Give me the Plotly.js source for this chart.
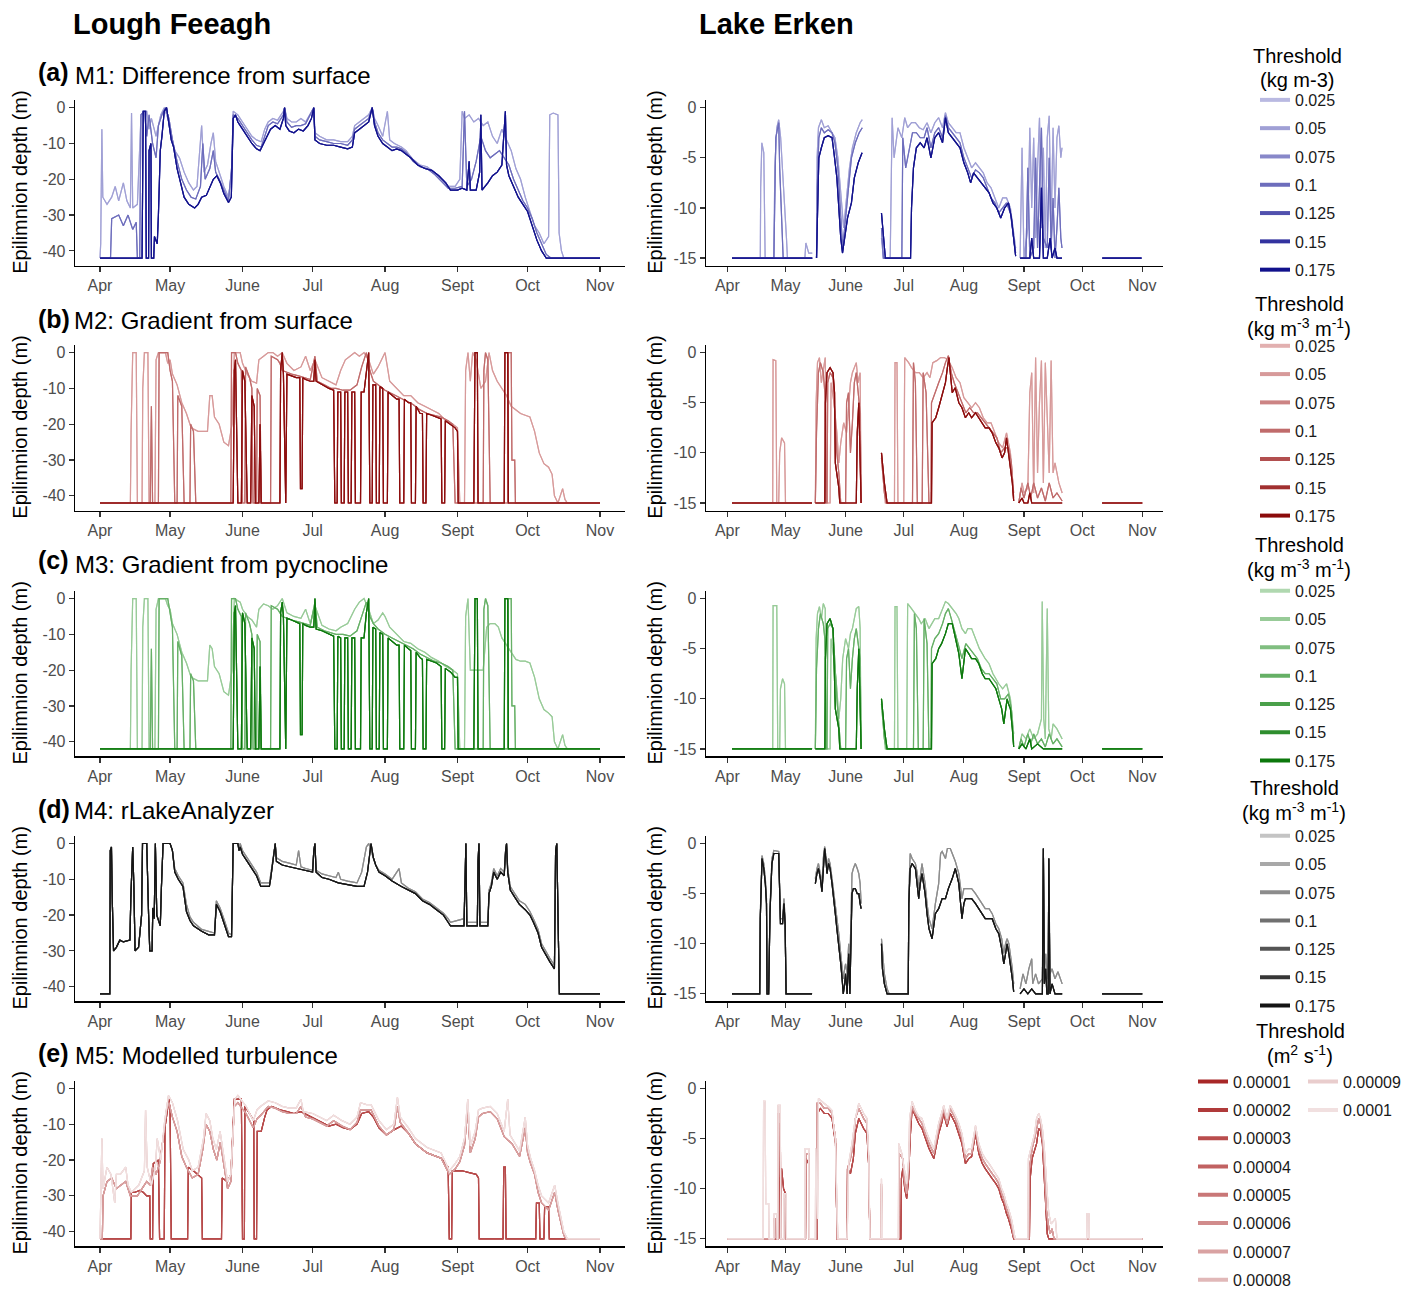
<!DOCTYPE html>
<html><head><meta charset="utf-8">
<script src="https://cdn.plot.ly/plotly-3.0.1.min.js"></script>
<style>
html,body{margin:0;padding:0;background:#fff;width:100%;height:100%;overflow:hidden}
#chart{width:100vw;height:100vh;overflow:hidden;position:relative}
</style>
</head><body><div id="chart"></div>
<script>
// ---------- tick labels / categories ----------
const monthTickVals = [0, 30, 61, 91, 122, 153, 183, 214];   // days since 1 April
const monthTickText = ['Apr', 'May', 'June', 'Jul', 'Aug', 'Sept', 'Oct', 'Nov'];
const feeaghTickVals = [0, -10, -20, -30, -40];
const feeaghTickText = ['0', '-10', '-20', '-30', '-40'];
const erkenTickVals = [0, -5, -10, -15];
const erkenTickText = ['0', '-5', '-10', '-15'];
const densityThresholds = ['0.025', '0.05', '0.075', '0.1', '0.125', '0.15', '0.175'];
const turbulenceThresholds = ['0.00001', '0.00002', '0.00003', '0.00004', '0.00005', '0.00006', '0.00007', '0.00008', '0.00009', '0.0001'];

// ---------- series: [day since 1 Apr, epilimnion depth (m)] ----------
// M1 Lough Feeagh
const FE_M1_low = [[0,-42],[0.3,-38],[0.8,-6],[1.2,-25],[3,-27],[5,-25],[6.5,-22],[8,-26],[10,-21],[11.5,-26],[13,-28],[13.5,-1.5],[14,-28],[16,-27],[17.5,-3],[18.5,-1],[20,-1],[21,-6],[22,-3],[24,-8],[26,-2],[27.5,0],[29,-3],[30.5,-8],[32,-12],[34,-14],[36,-18],[38,-21],[40,-23],[41.5,-22],[42.5,-12],[43.5,-5],[44.5,-18],[46,-16],[47.5,-10],[48.5,-7],[49.5,-15],[51,-18],[53,-22],[55,-25],[56.5,-17],[57,-1],[59,-2],[61,-4],[63,-6],[65,-8],[67,-9],[69,-9.5],[70.5,-6],[72,-4],[74,-3],[76,-3.5],[78.5,-1],[79,0],[80,-3],[82,-4],[84,-4],[86,-3],[88,-4],[90,-1.5],[91.5,0],[92,-7],[94,-8],[97,-9],[100,-9],[103,-9.5],[106,-9.5],[108,-8],[109,-5],[111,-4],[113,-3],[115,-2],[116.5,0],[117.5,-3],[119,-5],[121,-8],[123,-1],[124,-9],[126,-10],[129,-11],[131,-12],[134,-14.5],[137,-16],[140,-16.5],[143,-18],[146,-20],[149,-22],[152,-22],[154,-20],[155,-1],[156,-3],[158,-2],[160,-4],[162,-3],[164,-5],[166,-4],[168,-8],[170,-10],[172,-6],[174,-9],[176,-12],[178,-17],[180,-20],[182,-25],[184,-29],[186,-33],[188,-35],[190,-38],[192,-36],[192.5,-2],[194,-1.5],[196,-2],[196.5,-35],[197.5,-40],[198.5,-42],[214,-42]];
const FE_M1_mid = [[0,-42],[4.5,-42],[5,-31],[8,-30],[10,-33],[12,-30],[14,-34],[15.5,-32],[16,-42],[17,-42],[17.5,-2],[19,-1],[20,-8],[21,-2],[22.5,-10],[24,-14],[25,-5],[26.5,-2],[28,0],[29.5,-3],[31,-9],[33,-15],[35,-20],[37,-23],[39,-25],[41,-25.5],[43,-22],[44,-10],[45,-20],[47,-17],[48.5,-12],[49.5,-18],[51,-20],[53,-23],[55,-26],[56.3,-17],[57,-2],[59,-3],[61,-5],[63,-7],[65,-9],[67,-10.5],[69,-11],[70.5,-8],[72,-5],[74,-4],[76,-4.5],[78.5,-2],[79,0],[80,-4],[82,-5.5],[84,-5],[86,-5],[88,-4.5],[90,-2],[91.5,0],[92,-8],[94,-9],[97,-9.5],[100,-10],[103,-10],[106,-10.5],[108,-9],[109,-6],[111,-5],[113,-4],[115,-3],[116.5,0],[117.5,-4],[119,-7],[121,-9],[123,-10],[125,-11],[127,-11],[129,-11.5],[131,-12.5],[134,-15],[137,-16.5],[140,-17],[143,-18.5],[146,-20.5],[149,-22.5],[152,-22.5],[155,-22],[156,-1],[157,-22],[159,-20],[161,-15],[163,-8],[165,-12],[167,-14],[169,-13],[171,-12],[173,-14],[175,-16],[177,-20],[179,-23],[181,-26],[183,-28],[185,-31],[187,-35],[189,-38],[191,-41],[193,-42],[214,-42]];
const FE_M1_high = [[0,-42],[18,-42],[18.5,-1],[19.5,-1],[19.8,-42],[20.8,-42],[21,-12],[21.8,-10],[22,-42],[23,-42],[23.3,-36],[24.5,-38],[25,-30],[25.8,-12],[26.5,-8],[27.5,-1],[28.5,0],[29.5,-4],[30.5,-9],[31.5,-11],[33,-17],[34.5,-21],[36,-25],[38,-27],[40.5,-28],[42,-27],[43.5,-25],[45.5,-24.5],[47,-22],[48.5,-20],[50,-19],[51.5,-21],[53,-24],[55,-26.5],[56.2,-25],[56.5,-17],[57,-3],[58,-2],[59,-4],[61,-6],[63,-8],[65,-10],[67,-11.5],[68.5,-12],[70,-10],[71.5,-8],[73,-6],[75,-5],[77,-6],[78.5,-3],[79,0],[79.5,-5],[81,-6.5],[83,-7],[85,-6],[87,-6.5],[89,-5],[90.5,-3],[91.5,0],[92,-9],[94,-10],[97,-10.5],[100,-10.5],[103,-11],[106,-11.5],[108,-11],[109,-7],[111,-6],[113,-5],[115,-4],[116.5,0],[117.5,-5],[119,-8],[121,-10],[123,-11],[125,-12],[127,-11.5],[129,-12],[131,-13],[133,-14],[136,-16],[139,-17],[142,-17.5],[145,-19],[148,-21],[150,-23],[153,-23],[155,-22.5],[157,-23],[158,-15],[158.5,-23],[161,-23],[162.5,-18],[163,-2],[163.5,-23],[166,-21],[168,-19],[170,-18],[172,-16],[173,-5],[173.5,-1],[174,-16],[175,-19],[177,-22],[179,-25],[181,-27],[183,-29],[185,-33],[187,-37],[189,-40],[191,-42],[214,-42]];
// M1 Lake Erken
const ER_M1_low = [[2.4,-15],[17,-15],[17.2,-8],[17.8,-3.5],[18.8,-4.5],[19.5,-15],[24,-15],[24.5,-6],[25.5,-2],[26.5,-1.2],[27.5,-3],[28.5,-6],[29.5,-10],[30.5,-13],[31,-15],[40,-15],[40.5,-13.5],[42,-14.5],[43.8,-14.5],[44,null],[46,-15],[46.3,-5],[47,-2],[48.5,-1.2],[50,-2],[52,-1.8],[54,-2.5],[55.5,-3],[57,-5],[58.5,-9],[60,-12],[61.5,-9],[63,-6],[64.5,-4],[66.5,-2.5],[68.5,-1.5],[69.6,-1.2],[69.7,null],[79.5,-13],[80.5,-15],[84,-15],[85,-1],[86,-5],[88,-2],[90,-3],[91.5,-1],[93,-2],[95,-1.5],[97,-1.5],[99,-2],[101,-2.2],[103,-1.5],[105,-2.5],[107,-1.5],[109,-1],[111,-2],[112.5,-0.5],[114,-1.5],[116,-2],[118,-2.5],[120,-2.5],[122,-4],[124,-5],[126,-6],[128,-5.5],[130,-6],[132,-6.5],[134,-7.5],[136,-8],[138,-9],[140,-10],[142,-9],[144,-9],[146,-10],[148.7,-14],[148.8,null],[151,-15],[152,-4],[153,-15],[155,-12],[156,-2],[157,-10],[158,-3],[159,-13],[160,-6],[161,-1],[162,-12],[163,-4],[164,-14],[165,-3],[166,-0.8],[167,-12],[168,-2],[169,-10],[170,-3],[171,-1.8],[172,-5],[172.6,-4],[172.7,null],[193.4,-15],[213.6,-15]];
const ER_M1_mid = [[2.4,-15],[24,-15],[25,-3],[26.5,-1.5],[27,-6],[28,-12],[28.8,-15],[43.8,-15],[44,null],[46,-15],[46.4,-8],[47.2,-3],[48.5,-2],[50,-2.5],[52,-2.2],[54,-2.5],[55.5,-3.5],[57,-6],[58.5,-11],[59.5,-14],[61,-11],[62.5,-8],[64,-5],[66,-3.5],[68,-2.5],[69.6,-2],[69.7,null],[79.5,-12],[80.5,-15],[90,-15],[90.5,-3],[92,-6],[94,-4],[95.5,-2.5],[97.5,-2.5],[99.5,-3],[101.5,-3],[103,-2],[105,-4],[107,-2.5],[109,-2],[111,-3],[112.5,-0.8],[114,-2],[116,-2.5],[118,-3],[120,-3.5],[122,-5],[124,-6],[126,-7],[128,-6.2],[130,-6.5],[132,-7],[134,-8],[136,-9],[138,-9.5],[140,-10.5],[142,-10],[144,-9.5],[146,-10.5],[148.7,-14.5],[148.8,null],[151,-15],[154,-15],[155,-6],[156,-15],[158,-14],[159,-5],[160,-14],[162,-2],[163,-13],[165,-14],[166,-5],[167,-14],[168,-9],[169,-15],[170,-12],[171,-8],[172,-13],[172.6,-14],[172.7,null],[193.4,-15],[213.6,-15]];
const ER_M1_high = [[2.4,-15],[43.8,-15],[44,null],[46,-15],[46.5,-10],[47.2,-5],[48.5,-4],[50,-3],[52,-2.8],[54,-3],[55,-4.5],[56.5,-7],[57.5,-10],[58.5,-13],[59.4,-14.5],[60.5,-13],[62,-11],[64,-9.5],[65.5,-7],[67.5,-5.5],[69.5,-4.5],[69.6,null],[79.5,-10.5],[80.5,-13],[81.5,-15],[94.5,-15],[95,-10],[96,-6],[97.5,-4],[99.5,-3.5],[101.5,-4],[103,-3],[105,-5],[107,-3],[109,-2.5],[111,-3.5],[112.5,-1],[114,-2.5],[116,-3],[118,-3.5],[120,-4],[122,-5.5],[124,-6.5],[125.5,-7.5],[127,-6.5],[129,-7],[131,-7.5],[133,-8],[135,-8.5],[137,-9.5],[139,-10],[141,-11],[143,-10],[145,-9.5],[146.5,-11],[148.7,-14.8],[148.8,null],[151,-15],[156,-15],[157,-13],[158,-15],[161,-15],[162,-8],[163,-15],[165,-15],[166.5,-13],[167.5,-15],[169,-14],[170,-15],[172.6,-15],[172.7,null],[193.4,-15],[213.6,-15]];
// M2 Lough Feeagh
const FE_M2_low = [[0,-42],[13,-42],[13.3,-22],[14,0],[15.5,0],[16,-42],[18,-42],[18.3,-10],[19,0],[20.5,0],[21,-42],[23.5,-42],[24,-2],[25,0],[28,0],[29,-3],[30,-2],[31,-6],[33,-9],[35,-14],[37,-17],[39,-21],[42,-22],[46,-22],[47,-12],[48,-12],[49,-18],[51,-20],[53,-25],[55,-26],[56.5,-20],[57.5,0],[60,0],[61,-3],[63,-6],[65,-8],[67,-8.5],[68,-2],[70,-1],[72,0],[74,0],[76,-1],[78,0],[80,-3],[83,-5],[86,-4],[88,-1],[90,-5],[92,-2],[95,-7],[98,-8],[101,-9],[103,-5],[105,-2],[107,-1],[109,0],[111,-1],[113,0],[115,-2],[117,-6],[119,-4],[121,-1],[122,0],[124,-8],[127,-10],[130,-12],[133,-12],[136,-14],[139,-15],[142,-16],[145,-17],[148,-19],[151,-20],[153,-21],[154,-42],[156,-42],[156.5,-5],[157.5,0],[158.5,-8],[159.5,0],[161,-2],[163,-10],[165,-8],[166.5,0],[168,-5],[170,-8],[172,-10],[174,-12],[176,-15],[178,-16],[180,-17],[182,-17.5],[184,-18],[186,-22],[188,-28],[190,-31],[192,-32],[193.5,-34],[194.5,-40],[196,-42],[197,-40],[198,-38],[199,-41],[200,-42],[214,-42]];
const FE_M2_mid = [[0,-42],[21.5,-42],[22,-15],[22.5,-42],[25,-42],[25.3,0],[29,0],[30,-5],[31,-8],[32,-42],[33,-42],[33.3,-12],[35,-15],[36,-42],[38.5,-42],[38.8,-20],[40,-22],[41,-42],[56,-42],[56.3,0],[58,0],[59,-3],[60.5,-5],[61,-42],[62,-42],[62.3,-4],[64,-7],[65,-10],[65.5,-42],[67,-42],[67.3,-10],[68.5,-12],[69,-42],[73,-42],[73.3,-1],[76,-2],[77,-3],[78,-5],[80,-5.5],[82,-6],[85,-6.5],[88,-7],[90,-7.5],[92,-1],[93,-8],[96,-9],[99,-10],[101,-10],[104,-10.5],[107,-10.5],[110,-9],[112,-4],[114,0],[115.5,-5],[117,-8],[119,-9],[122,-10.5],[125,-11.5],[128,-12.5],[131,-13.5],[134,-14.5],[137,-16],[140,-17],[143,-17.5],[146,-18],[149,-19],[151,-20],[152,-42],[164,-42],[164.3,-5],[165,0],[166,-2],[167,-42],[174.5,-42],[174.8,0],[176,0],[176.3,-30],[177.5,-30],[177.8,-42],[214,-42]];
const FE_M2_high = [[0,-42],[57,-42],[57.5,-5],[58,-2],[59,-42],[60.5,-42],[61,-5],[62,-8],[63,-42],[64.5,-42],[65,-12],[66,-15],[66.5,-42],[68,-42],[68.5,-20],[69,-42],[77,-42],[77.3,-5],[78,0],[78.5,-6],[79.5,-42],[80,-6],[82,-6.5],[84,-7],[85.5,-7],[85.8,-38],[86.5,-38],[86.8,-7],[88,-7.5],[90,-8],[91.5,-8],[92,-2],[92.5,-8],[95,-9],[98,-10],[100,-10.5],[100.5,-42],[101.5,-42],[101.8,-11],[103,-11],[103.3,-42],[104.5,-42],[104.8,-11],[106,-11],[106.3,-42],[107.5,-42],[107.8,-11],[109,-11],[109.3,-42],[111.5,-42],[111.8,-11],[113,-11],[114,-5],[115,0],[115.5,-42],[116.5,-42],[116.8,-9],[118,-9],[118.3,-42],[119.5,-42],[119.8,-9.5],[121,-10],[121.3,-42],[123,-42],[123.3,-11],[125,-12],[127,-13],[128,-13],[128.3,-42],[130,-42],[130.3,-13],[132,-14],[133,-14],[133.3,-42],[135,-42],[135.3,-15],[137,-17],[138,-17],[138.3,-42],[139.5,-42],[139.8,-17],[142,-17.5],[144,-18],[146,-18.5],[146.3,-42],[147.5,-42],[147.8,-19],[150,-20],[152,-21],[153,-22],[153.3,-42],[160,-42],[160.5,0],[161.5,0],[161.8,-42],[173,-42],[173.3,0],[174.5,0],[174.8,-42],[214,-42]];
// M2 Lake Erken
const ER_M2_low = [[2.4,-15],[23.4,-15],[23.6,-0.7],[25,-0.8],[25.5,-15],[26.5,-15],[27,-10],[28,-8.5],[29.5,-9],[30,-15],[43.7,-15],[43.8,null],[45.4,-15],[45.8,-5],[46.5,-1],[47.5,-0.5],[48.5,-3],[49.5,-1.5],[50.5,-0.5],[51.5,-15],[53,-15],[53.5,-3],[55,-5],[56.5,-8],[57.5,-11],[58.5,-9],[60,-7],[61.5,-8],[62.5,-5],[63.5,-3],[64.5,-2],[65.5,-1.5],[66.5,-1],[67.5,-3],[68.5,-2],[69,-15],[69.1,null],[79.5,-10],[80.5,-13],[81.5,-15],[86.2,-15],[86.5,-1],[87.5,-1],[88,-15],[91,-15],[91.5,-0.5],[93.5,-1],[95,-1.5],[97,-2],[99,-2],[101,-2.5],[103,-2],[104.5,-2.5],[106,-1],[108,-0.8],[110,-0.5],[112,-0.5],[114,-0.8],[116,-1.5],[118,-2.5],[120,-3],[122,-4.5],[124,-5],[126,-5.5],[128,-5],[130,-5.5],[132,-6.5],[134,-7],[136,-7],[138,-8],[140,-9],[142,-9.5],[144,-8],[146,-10],[147.7,-14],[147.8,null],[150.3,-15],[152,-13],[153,-14],[155,-13.5],[156,-4],[157,-2],[158,-14],[159,-0.5],[160,-12],[161,-5],[162,-0.8],[163,-13],[164,-1],[165,-6],[166,-12],[167,-0.8],[168,-12],[169,-11],[170,-12],[171,-13],[172.7,-14],[172.8,null],[193.3,-15],[214,-15]];
const ER_M2_mid = [[2.4,-15],[43.7,-15],[43.8,null],[45.4,-15],[46,-8],[47,-2],[48,-1],[49.5,-2],[50.3,-4],[51,-15],[51.4,-15],[51.8,-3],[53,-2],[54.5,-2.5],[55.5,-6],[56.5,-10],[57.5,-12],[58.5,-15],[61,-15],[61.5,-5],[62.5,-4],[63.5,-10],[64.5,-7],[65.5,-3],[66.5,-2],[67.5,-4],[68.5,-6],[69,-15],[69.1,null],[79.5,-10.5],[81,-14],[82,-15],[95.5,-15],[96,-1],[97,-3],[98,-15],[100.5,-15],[101,-2],[102.5,-4],[104,-15],[105,-15],[105.3,-5],[107,-4],[109,-3],[111,-2],[112.5,-1],[114,-0.3],[115.5,-2],[117,-3],[119,-4],[121,-5],[123,-6],[125,-5.5],[127,-6],[129,-6],[131,-6.5],[133,-7],[135,-7.5],[137,-8],[139,-8.5],[141,-10],[143,-9.5],[145,-9.5],[146.5,-11],[147.7,-14.5],[147.8,null],[150.3,-15],[151.5,-13.5],[153,-14.5],[155,-13],[156.5,-14.5],[158,-13],[160,-14.5],[162,-13.5],[164,-14.8],[166,-13],[168,-14.5],[170,-14],[172.7,-14.8],[172.8,null],[193.3,-15],[214,-15]];
const ER_M2_high = [[2.4,-15],[43.7,-15],[43.8,null],[45.4,-15],[50.3,-15],[50.6,-5],[51.4,-2],[53,-1.5],[54.5,-2],[55.3,-4],[55.7,-11],[57.5,-13.5],[58,-15],[66.5,-15],[67,-8],[67.8,-5],[68.5,-12],[69,-15],[69.1,null],[79.5,-10],[81,-13],[82.4,-15],[105.3,-15],[105.6,-7],[107.5,-6.5],[109,-5.5],[110.5,-4.5],[112.5,-3],[113.5,-1.5],[114.3,-0.5],[115,-2],[116,-4],[117.5,-3.5],[119.4,-5],[121,-5.5],[122.8,-6.5],[124.5,-6],[126,-6.5],[128,-6],[129.7,-6.5],[131.5,-7],[133,-7.5],[135,-7.5],[136.6,-8],[138.5,-9],[140,-9.5],[141.7,-10.5],[143,-10],[144,-8.5],[145,-10],[146,-11],[147,-13],[147.7,-14.8],[147.8,null],[150.3,-15],[152,-14.5],[153,-15],[155,-15],[156,-14],[157,-15],[160,-15],[172.7,-15],[172.8,null],[193.3,-15],[214,-15]];
// M3 Lough Feeagh
const FE_M3_low = [[0,-42],[13,-42],[13.3,-20],[14,0],[15.5,0],[16,-42],[18,-42],[18.3,-8],[19,0],[20.5,0],[21,-42],[23.5,-42],[24,-3],[25,0],[28,0],[29,-2],[30,-3],[31,-7],[33,-10],[35,-15],[37,-18],[39,-22],[42,-23],[46,-23],[47,-13],[48,-14],[49,-19],[51,-21],[53,-26],[55,-27],[56.5,-20],[57.5,0],[60,-1],[61,-3],[63,-5],[65,-6],[67,-8],[68,-3],[70,-1.5],[72,-2],[74,-3],[76,-2],[78,0],[80,-4],[83,-5],[86,-5.5],[88,-3],[90,-7],[92,-2],[95,-7.5],[98,-8.5],[101,-9],[103,-8],[106,-7],[109,-3],[111,-1],[113,0],[115,-3],[117,-7],[119,-6],[121,-4],[122,-5],[124,-8],[127,-10],[130,-12],[133,-12.5],[136,-14],[139,-15],[142,-16.5],[145,-17.5],[148,-19],[151,-20],[153,-21],[154,-42],[156,-42],[156.5,-5],[157.5,0],[158.5,-20],[162,-20],[164,-20],[165.5,-8],[167,-7],[169,-7],[170.5,-8],[172,-11],[174,-13],[176,-15],[178,-17],[180,-17.5],[182,-17.5],[184,-18],[186,-22],[188,-28],[190,-31],[192,-32],[193.5,-33],[194.5,-40],[196,-42],[197,-40],[198,-38],[199,-41],[200,-42],[214,-42]];
const FE_M3_mid = [[0,-42],[21.5,-42],[22,-14],[22.5,-42],[25,-42],[25.3,0],[29,0],[30,-4],[31,-8],[32,-42],[33,-42],[33.3,-12],[35,-16],[36,-42],[38.5,-42],[38.8,-21],[40,-23],[41,-42],[56,-42],[56.3,0],[58,0],[59,-3],[60.5,-5],[61,-42],[62,-42],[62.3,-4],[64,-7],[65,-10],[65.5,-42],[67,-42],[67.3,-10],[68.5,-12],[69,-42],[73,-42],[73.3,-2],[76,-3],[77,-4],[78,-5],[80,-5.5],[82,-6],[85,-6.5],[88,-7],[90,-7.5],[92,-1],[93,-8],[96,-9],[99,-9.5],[101,-10],[104,-10],[107,-10.5],[110,-9],[112,-5],[114,-1],[115.5,-5],[117,-7],[119,-8.5],[122,-10],[125,-11],[128,-12],[131,-13],[134,-14],[137,-15.5],[140,-16.5],[143,-17.5],[146,-18],[149,-19],[151,-20],[152,-42],[164,-42],[164.3,-3],[165,0],[166,-2],[167,-42],[174.5,-42],[174.8,0],[176,0],[176.3,-30],[177.5,-30],[177.8,-42],[214,-42]];
const FE_M3_high = [[0,-42],[57,-42],[57.5,-4],[58,-2],[59,-42],[60.5,-42],[61,-4],[62,-7],[63,-42],[64.5,-42],[65,-11],[66,-14],[66.5,-42],[68,-42],[68.5,-19],[69,-42],[77,-42],[77.3,-4],[78,-1],[78.5,-5],[79.5,-42],[80,-5.5],[82,-6],[84,-6.5],[85.5,-7],[85.8,-38],[86.5,-38],[86.8,-7],[88,-7.5],[90,-8],[91.5,-8],[92,0],[92.5,-8.5],[95,-9],[98,-10],[100,-10.5],[100.5,-42],[101.5,-42],[101.8,-10.5],[103,-11],[103.3,-42],[104.5,-42],[104.8,-11],[106,-11],[106.3,-42],[107.5,-42],[107.8,-11],[109,-11],[109.3,-42],[111.5,-42],[111.8,-11],[113,-11],[114,-4],[115,0],[115.5,-42],[116.5,-42],[116.8,-8],[118,-8.5],[118.3,-42],[119.5,-42],[119.8,-9.5],[121,-10],[121.3,-42],[123,-42],[123.3,-11],[125,-12],[127,-13],[128,-13],[128.3,-42],[130,-42],[130.3,-13],[132,-14],[133,-14.5],[133.3,-42],[135,-42],[135.3,-15],[137,-16.5],[138,-17],[138.3,-42],[139.5,-42],[139.8,-17],[142,-17.5],[144,-18],[146,-19],[146.3,-42],[147.5,-42],[147.8,-19.5],[150,-20.5],[152,-22],[153,-22],[153.3,-42],[160,-42],[160.5,0],[161.5,0],[161.8,-42],[173,-42],[173.3,0],[174.5,0],[174.8,-42],[214,-42]];
// M3 Lake Erken
const ER_M3_low = [[2.4,-15],[23.4,-15],[23.6,-0.7],[25.5,-0.7],[26,-15],[27,-15],[27.4,-9],[28.5,-8],[29.5,-8.5],[30,-15],[43.7,-15],[43.8,null],[45.4,-15],[45.8,-4],[46.5,-1.5],[47.5,-0.8],[48.5,-2],[49.5,-0.5],[50.5,-1],[51,-15],[53,-15],[53.5,-4],[55,-6],[56.5,-9],[57.5,-12],[58.5,-10],[59.5,-6],[61,-4],[62.5,-5],[63.5,-3.5],[64.5,-3],[65.5,-2],[66.5,-1],[67.8,-0.8],[68.5,-3],[69,-15],[69.1,null],[79.5,-10],[80.5,-13],[81.5,-15],[86.2,-15],[86.5,-0.8],[87.5,-0.8],[88,-15],[92.5,-15],[93,-0.5],[95,-1],[97,-1.5],[98.7,-2],[100,-2.5],[102,-2],[104,-3],[105.5,-2.5],[107,-2],[109,-2],[111,-1],[112.5,-0.3],[114,-0.5],[116,-1],[118,-1.5],[119.4,-2],[121,-3],[122.8,-3.5],[124,-3],[126,-3],[128,-4],[130,-5],[133,-6],[135,-6.5],[137,-7.5],[140,-8.5],[142,-9],[144,-8.5],[146,-10],[147.7,-13.5],[147.8,null],[150.3,-15],[152,-13.5],[154,-14],[156,-13],[158,-14],[160,-13.5],[162,-12],[162.4,-0.3],[163.2,-12],[164,-14],[165,-1],[165.8,-13],[167,-14],[168,-12.5],[170,-13],[172.7,-14],[172.8,null],[193.3,-15],[214,-15]];
const ER_M3_mid = [[2.4,-15],[43.7,-15],[43.8,null],[45.4,-15],[46,-7],[47,-3],[48,-1.5],[49.5,-2.5],[50.3,-4],[51,-15],[51.4,-15],[51.8,-3],[53,-2.5],[54.5,-3],[55.5,-7],[56.5,-10],[57.5,-12.5],[58.5,-15],[61,-15],[61.5,-6],[62.5,-5],[63.5,-9],[64.5,-6],[65.5,-4],[66.5,-3],[67.5,-4.5],[68.5,-6],[69,-15],[69.1,null],[79.5,-10.5],[81,-14],[82,-15],[96,-15],[96.5,-1.5],[97.5,-3],[98.5,-15],[101,-15],[101.5,-2],[103,-4.5],[104,-15],[105,-15],[105.3,-5],[107,-4],[109,-3.5],[111,-2.5],[112.5,-1.5],[114,-1],[115.5,-2],[117,-3],[119,-4.5],[121,-6],[123,-4.5],[125,-5],[127,-5.5],[129,-6],[131,-7],[133,-7.5],[135,-7.5],[137,-8],[139,-8.5],[141,-10],[143,-10],[145,-9.5],[146.5,-11],[147.7,-14.5],[147.8,null],[150.3,-15],[151.5,-14],[153,-14.8],[155,-13.5],[156.5,-14.5],[158,-13.5],[160,-14.5],[162,-14],[164,-14.8],[166,-13.5],[168,-14.5],[170,-14],[172.7,-14.8],[172.8,null],[193.3,-15],[214,-15]];
const ER_M3_high = [[2.4,-15],[43.7,-15],[43.8,null],[45.4,-15],[50.3,-15],[50.6,-6],[51.4,-2.5],[53,-2],[54.5,-3],[55,-6],[55.7,-11],[57.5,-13],[58,-15],[66.5,-15],[67,-9],[67.8,-5],[68.5,-10],[69,-15],[69.1,null],[79.5,-10],[81,-13],[82.4,-15],[105.3,-15],[105.6,-6.5],[107.5,-6],[109,-5],[110.5,-4.5],[112.5,-3.5],[114,-2.5],[116,-2.5],[117.6,-4],[119.4,-5.5],[121,-8],[122.8,-5],[124.5,-5.5],[126,-6],[128,-6],[129.7,-6.5],[131.5,-7.5],[133,-8],[135,-8],[136.6,-8.5],[138.5,-9],[140,-10],[141.5,-11],[142.6,-12.5],[143.5,-11],[144.3,-10],[145,-10.5],[146,-11],[147,-13],[147.7,-14.8],[147.8,null],[150.3,-15],[152,-14.5],[154,-15],[156,-14],[157,-15],[160,-14.5],[163,-15],[172.7,-15],[172.8,null],[193.3,-15],[214,-15]];
// M4 Lough Feeagh
const FE_M4_low = [[0,-42],[4.2,-42],[4.4,-2],[4.9,-1],[5.3,-17],[5.8,-30],[7,-29],[8.5,-27],[10,-27.5],[12,-27],[12.8,-27],[13.2,-15],[14,-1],[14.5,-12],[15,-30],[16.5,-29],[17.8,-20],[18.2,0],[20,0],[20.8,-20],[21.3,-30],[22.3,-30],[22.6,-18],[23.2,-21],[23.7,0],[24.3,-20],[25.8,-23],[26.3,-12],[27,0],[30,0],[31,-2],[32,-7],[33.5,-9],[35.5,-11],[37,-17],[38.5,-20.5],[40,-22],[43.5,-24],[46.5,-24.5],[49,-25],[49.8,-16],[51.4,-18],[53,-21],[55,-25],[56.3,-25.5],[56.6,-15],[57,0],[59,0],[59.5,-1],[60,0],[61,-2],[63,-4],[65,-6],[67,-8],[68.8,-11],[72.5,-11],[73,-9],[74,-4],[75,0],[75.5,-4],[78,-5],[81,-5.5],[84,-6],[85,-2],[86,-6.5],[88,-7],[91,-7.5],[91.5,-2],[92,0],[92.5,-7.5],[95,-8.5],[98,-9],[101,-9.5],[102,-8],[103,-10],[106,-10.5],[110,-11],[112,-8],[113,-4],[114,-1],[115,0],[116,-2],[117,-4],[118,-6],[119.4,-7.5],[122,-8.5],[125,-10],[127,-8],[128,-7],[129,-11],[132,-12.5],[135,-13.5],[138,-15.5],[141,-16.5],[144,-18],[147,-19.5],[149,-21],[150,-22],[155.8,-21],[156.2,-8],[156.6,0],[157,-22],[161.5,-22],[161.8,-5],[162.2,0],[162.6,-22],[166,-22],[166.5,-13],[167.5,-11],[168.5,-7],[170,-9],[171.5,-7],[173,-8],[173.6,-2],[174,0],[174.5,-7],[175.6,-12],[177.5,-14],[179.5,-16],[182,-17],[184,-19],[185.5,-21],[187.5,-24],[189,-28],[190.6,-30],[192.5,-32],[194.5,-34],[194.8,-20],[195,-2],[195.5,0],[196.2,-30],[196.6,-42],[214,-42]];
const FE_M4_high = [[0,-42],[4.2,-42],[4.4,-2],[4.9,-1],[5.3,-17],[5.8,-30],[7,-29],[8.5,-27],[10,-27.5],[12,-27],[12.8,-27],[13.2,-15],[14,-1],[14.5,-12],[15,-30],[16.5,-29],[17.8,-20],[18.2,0],[20,0],[20.8,-20],[21.3,-30],[22.3,-30],[22.6,-18],[23.2,-21],[23.7,0],[24.3,-20],[25.8,-23],[26.3,-12],[27,0],[30,0],[31,-2],[32,-8],[33.5,-10],[35.5,-12],[37,-19],[38.5,-21.5],[40,-23],[43.5,-24.5],[46.5,-25.5],[49,-25.5],[49.8,-17],[51.4,-19],[53,-22],[55,-26],[56.3,-26],[56.6,-15],[57,0],[59,0],[59.5,-2],[60,-1],[61,-3],[63,-5],[65,-7],[67,-9],[68.8,-12],[72.5,-12],[73,-10],[74,-5],[75,0],[75.5,-5],[78,-6],[81,-6.5],[84,-7],[87,-7.5],[91,-8],[91.5,-2],[92,0],[92.5,-8],[95,-9.5],[98,-10],[102,-11],[106,-11.5],[110,-12],[113,-12],[114.5,-8],[116,0],[117,-4],[118,-6],[119.4,-8],[122,-9],[125,-10.5],[129,-12],[132,-13],[135,-14],[138,-16],[141,-17],[144,-18.5],[147,-20],[149,-22],[150,-23],[155.8,-23],[156.2,-8],[156.6,0],[157,-23],[161.5,-23],[161.8,-5],[162.2,0],[162.6,-23],[166,-23],[166.5,-14],[167.5,-12],[168.5,-8],[170,-10],[171.5,-8],[173,-9],[173.6,-2],[174,0],[174.5,-8],[175.6,-13],[177.5,-15],[179.5,-17],[182,-18.5],[184,-20],[185.5,-22],[187.5,-25],[189,-29],[190.6,-31],[192.5,-33],[194.5,-35],[194.8,-20],[195,-2],[195.5,0],[196.2,-30],[196.6,-42],[214,-42]];
// M4 Lake Erken
const ER_M4_low = [[2.4,-15],[16.7,-15],[17,-7],[17.9,-1.2],[18.8,-2],[19.6,-3.5],[20.2,-5.5],[20.5,-15],[21.3,-15],[22,-6.5],[23,-1.5],[24,-0.7],[26.5,-0.8],[26.8,-4.5],[27.4,-7.5],[28.5,-7.5],[29.2,-5.5],[29.8,-7.5],[30.3,-15],[43.7,-15],[43.8,null],[45.4,-3.5],[46.2,-2.5],[47,-2],[48,-3],[48.8,-4],[49.5,-1.5],[50.2,-0.3],[51,-1.5],[51.4,-2.5],[52.2,-1.5],[53,-2],[54,-3.5],[55,-5],[55.7,-6],[56.5,-7.5],[57.5,-9],[58.5,-11],[59.2,-12.5],[59.8,-13.5],[60.5,-12.5],[61,-12],[61.8,-13],[62.3,-11],[62.6,-10],[63.2,-12],[63.8,-6],[64.3,-3],[65,-2.5],[66,-2],[67,-2.5],[67.8,-3],[68.5,-4],[69,-6],[69.1,null],[79.5,-9.5],[80,-11],[81,-13],[82.4,-14.5],[83.5,-15],[93.3,-15],[93.6,-5],[94.3,-1],[95.3,-1.5],[97,-2],[98,-3],[98.7,-4.5],[99.5,-3],[100.4,-2],[101.2,-3],[102,-4],[103,-6],[104,-7.5],[105.6,-8.5],[106.5,-7],[107.3,-6],[109,-4],[110,-1],[110.8,-0.8],[112.5,-1.5],[113.5,-0.5],[115,-0.5],[116,-1],[117.6,-1.8],[119.4,-3],[120.3,-4.5],[121,-5.5],[122,-4.5],[122.8,-4.5],[124.5,-4.5],[126,-4.5],[128,-5],[129.7,-5.5],[131.5,-6],[133,-6.5],[135,-6.5],[136.6,-7],[138.5,-8],[140,-8.5],[141.5,-9.5],[142.6,-11],[143.5,-10],[144.3,-9.5],[145.2,-10],[146,-11],[147,-12.5],[147.7,-14],[147.8,null],[151,-14.5],[152.5,-13],[154,-14],[155.5,-12.5],[157,-11.5],[157.5,-14],[159,-13],[160.5,-14],[162.5,-13.5],[163,-0.5],[163.5,-13],[164.2,-11],[164.8,-12.5],[165.5,-13.5],[165.8,-1.5],[166.4,-13],[167.5,-12.5],[169,-13.5],[170.5,-12.8],[172.7,-14],[172.8,null],[193.3,-15],[214,-15]];
const ER_M4_high = [[2.4,-15],[16.7,-15],[17,-7.5],[17.9,-1.5],[18.8,-2.5],[19.6,-4],[20.2,-6],[20.5,-15],[21.3,-15],[22,-7],[23,-2],[24,-1],[26.5,-1],[26.8,-5],[27.4,-8],[28.5,-8],[29.2,-6],[29.8,-8],[30.3,-15],[43.7,-15],[43.8,null],[45.4,-4],[46.2,-3],[47,-2.5],[48,-3.5],[48.8,-4.8],[49.5,-2],[50.2,-0.5],[51,-2],[51.4,-3],[52.2,-2],[53,-2.5],[54,-4],[55,-5.5],[55.7,-7],[56.5,-8.5],[57.5,-10],[58.5,-12],[59.2,-13.5],[59.8,-15],[60.5,-14],[61,-13],[61.8,-15],[62.3,-12],[62.6,-11],[63.2,-15],[63.8,-8],[64.3,-5],[65,-4.5],[66,-4.5],[67,-5],[67.8,-5],[68.5,-6],[69,-6.5],[69.1,null],[79.5,-10],[80,-12.5],[81,-14],[82.4,-15],[93.3,-15],[93.6,-6],[94.3,-2.5],[95.3,-2],[97,-2.5],[98,-4],[98.7,-5.5],[99.5,-4],[100.4,-3],[101.2,-4],[102,-5],[103,-7],[104,-8.5],[105.6,-9.5],[106.5,-8],[107.3,-7],[109,-6.5],[110.8,-5.5],[112.5,-5.5],[114,-4.5],[116,-3.5],[117.6,-2.5],[119.4,-4],[120.3,-6],[121,-7.5],[122,-6],[122.8,-5.5],[124.5,-5.5],[126,-5.5],[128,-6],[129.7,-6.5],[131.5,-7],[133,-7.5],[135,-7.5],[136.6,-7.5],[138.5,-8.5],[140,-9],[141.5,-10.5],[142.6,-12],[143.5,-11],[144.3,-10],[145.2,-11],[146,-12],[147,-13.5],[147.7,-14.8],[147.8,null],[151,-15],[153,-14.5],[155,-15],[157,-14.5],[159,-15],[162.5,-15],[163,-0.5],[163.5,-14],[164.2,-12.5],[164.8,-15],[165.5,-15],[165.8,-1.5],[166.4,-15],[167.5,-14],[169,-15],[172.7,-15],[172.8,null],[193.3,-15],[214,-15]];
// M5 Lough Feeagh
const FE_M5_weak = [[0,-42],[0.4,-26],[0.8,-14],[1.3,-28],[3,-22],[4.7,-24],[6.3,-32],[7,-24],[8.7,-24],[11,-22],[12,-27],[13.4,-29],[16.6,-27],[19,-23],[19.5,-6],[20.2,-22],[22,-27],[23.7,-22],[24.5,-14],[26,-20],[27.7,-9],[29.3,-2],[31,-4],[33.2,-9],[35.6,-17],[38,-20],[39.5,-23],[42,-22],[44.3,-14],[45.4,-7],[47,-9],[48.3,-14],[49.8,-17],[51.4,-12],[53,-19],[54.6,-26],[56,-24],[57.7,-3],[59,-2],[62.5,-5],[65.6,-9],[67.2,-6],[68.8,-5],[72,-3.5],[75,-4],[78,-5],[81,-5.5],[84,-5.5],[86,-3],[87,-6.5],[91,-7],[94,-8],[97,-9],[100,-7.5],[103.6,-9],[107,-10],[110,-8],[111.5,-4],[114,-4.5],[116,-4.5],[119.4,-9],[122.6,-11.5],[125.8,-10],[127.3,-2.5],[128.5,-8],[132,-11],[135,-14],[140,-16.5],[146,-18],[149.5,-23],[152,-21],[154,-19],[156,-14],[157.4,-3],[158.5,-16],[160.6,-12],[162,-6],[163.7,-5.5],[167,-5],[170,-7],[173,-12],[174.5,-3],[175.5,-13],[176.4,-14],[179.6,-17.5],[182,-8],[183,-16],[184.3,-19.5],[186,-23],[187.5,-27],[189,-30],[192,-32],[194.6,-27],[196,-32],[198.5,-40],[200,-42],[214,-42]];
const FE_M5_mid = [[0,-42],[1,-42],[1.3,-30],[3,-26],[5,-25],[7,-28],[9,-27],[11,-26],[13,-30],[16,-30],[18,-28],[20,-26],[21.5,-27],[22.5,-22],[24,-24],[25.5,-21],[27,-14],[28.5,-6],[29.5,-4],[31,-8],[33,-12],[35,-19],[37,-22],[39.5,-25],[42,-24],[44,-17],[45.4,-10],[47,-12],[48.5,-17],[50,-20],[51.5,-15],[53,-21],[54.6,-28],[56,-26],[57.5,-5],[59,-4],[62.5,-7],[65.6,-11],[67.2,-8.5],[68.8,-7.5],[72,-5],[75,-5.5],[78,-6.5],[81,-7],[84,-7],[86,-5],[88,-8],[91,-8.5],[94,-9.5],[97,-10.5],[100,-9],[103.6,-10.5],[107,-11.5],[110,-9.5],[111.5,-6],[114,-6],[116,-6],[119.4,-10.5],[122.6,-13],[125.8,-11.5],[127.3,-5],[128.5,-9.5],[132,-12.5],[135,-15.5],[140,-18],[146,-19.5],[149.5,-24],[152,-22.5],[154,-20.5],[156,-16],[157.4,-6],[158.5,-18],[160.6,-14],[162,-8],[163.7,-7],[167,-6.5],[170,-8.5],[173,-13.5],[176.4,-15.5],[179.6,-19],[182,-11],[183,-18],[184.3,-21],[186,-24],[187.5,-29],[189,-32],[192,-34],[194.6,-29],[196,-34],[198.5,-41],[199.5,-42],[214,-42]];
const FE_M5_strong = [[0,-42],[13.2,-42],[13.4,-29],[15,-29],[17,-28.5],[18.5,-29],[20,-30],[21.3,-30],[21.5,-42],[22.5,-42],[22.8,-21],[25,-20],[25.5,-42],[27.5,-42],[27.8,-11],[29.5,-3],[30,-6],[30.5,-42],[37.5,-42],[37.8,-22],[40,-23],[42,-24],[43.5,-25],[43.8,-42],[52,-42],[52.3,-25],[54.5,-26],[56,-24],[57.5,-3],[60.5,-3],[61,-42],[61.8,-42],[62,-5],[64,-7],[65.8,-9],[66,-42],[67,-42],[67.3,-12],[69,-12],[70.5,-8],[71.5,-6],[73.5,-5],[77,-6],[80,-6.5],[83,-7],[86,-6.5],[89,-7.5],[92,-8.5],[95,-9.5],[98,-10.5],[101,-10],[104,-11],[107,-11.5],[110,-10],[112,-7],[115,-6.5],[117,-8],[119.4,-11],[122.6,-13],[126,-11.5],[129,-10.5],[132,-12.5],[135,-15.5],[140,-18],[146,-19.5],[149,-22],[149.5,-42],[150.5,-42],[150.8,-23],[155,-23],[158,-23.5],[161,-24],[162,-25],[162.3,-42],[172.5,-42],[172.8,-22],[173.5,-22],[173.8,-42],[186.5,-42],[186.8,-32],[188,-32],[188.3,-42],[190,-42],[190.3,-33],[192,-33],[192.3,-42],[214,-42]];
// M5 Lake Erken
const ER_M5_weak = [[0,-15],[18.5,-15],[18.7,-1.3],[19.5,-1.3],[19.8,-11.5],[21.3,-11.5],[21.5,-15],[24,-15],[24.2,-12.5],[25.5,-12.5],[25.8,-15],[26,-15],[26.2,-1.7],[27.3,-1.7],[27.6,-15],[29,-15],[29.2,-10.5],[30.3,-10.5],[30.5,-15],[40,-15],[40.2,-6],[42,-6],[42.2,-15],[45.4,-15],[45.6,-6],[46.5,-13],[47,-1],[48,-1.2],[50,-1.5],[52,-1.8],[54,-2.2],[55,-4],[55.7,-5],[57,-15],[61.7,-15],[61.9,-14],[62.6,-7.5],[64.3,-5.5],[66,-3],[67.8,-1.5],[69,-2],[70.3,-2.5],[72,-3],[73,-7],[73.5,-15],[79.3,-15],[79.5,-9],[80,-15],[88.2,-15],[88.4,-5.5],[90,-6.5],[91.5,-8.5],[92.5,-9.5],[93.6,-7],[94,-3],[95.3,-1.3],[97,-2.2],[98.7,-2.8],[100.4,-3],[102,-4],[104,-5],[106.5,-6],[108,-4.5],[109,-3.5],[110.5,-2.5],[111.6,-1.7],[113.3,-3],[115,-1.7],[117.6,-2.7],[119.4,-3.5],[121,-4.5],[122.8,-6.5],[124.5,-6],[126,-6],[128,-3.7],[129.7,-5.5],[131.5,-6.5],[133,-7],[135,-7.5],[136.6,-8],[138.5,-8.5],[140,-9],[141.5,-10],[142.6,-10.5],[144,-11.5],[145,-12],[146.5,-13],[147.7,-14.3],[148.5,-15],[155,-15],[155.3,-7],[157.2,-5.5],[158.5,-4.5],[159.5,-3],[160.6,-2.5],[161.5,-3],[162.5,-4],[163.5,-6],[164,-8],[165,-10.5],[165.8,-12.5],[167,-13.5],[169.2,-13],[170,-15],[185.3,-15],[185.5,-12.5],[186.5,-12.5],[186.7,-15],[214,-15]];
const ER_M5_mid = [[0,-15],[24,-15],[24.2,-13],[25,-13],[25.3,-15],[26,-15],[26.2,-2.5],[27.3,-2.5],[27.6,-15],[29,-15],[29.2,-11],[30.3,-11],[30.5,-15],[40.3,-15],[40.5,-6.5],[42,-6.5],[42.2,-15],[46,-15],[46.2,-1.5],[48,-1.5],[50,-2],[52,-2],[54,-2.5],[55,-4],[55.8,-5],[56.6,-15],[61.8,-15],[62,-8],[63.5,-7],[65,-5.5],[66,-3],[67.8,-2],[69,-2.5],[70.3,-3],[72,-3.5],[73,-7.5],[73.5,-15],[79.3,-15],[79.5,-9.5],[80,-15],[88.4,-15],[88.6,-6.5],[90.5,-7],[91.5,-9.5],[92.5,-10.5],[93.5,-8],[94.3,-3.5],[95.3,-1.8],[97,-2.5],[98.7,-3],[100.4,-3.5],[102,-4.5],[104,-5.5],[106.5,-6.5],[108,-5],[109,-4],[110.5,-3],[111.6,-2],[113.3,-3.5],[115,-2],[117.6,-3],[119.4,-4],[121,-5],[122.8,-7],[124.5,-6.5],[126,-6.5],[128,-4],[129.7,-6],[131.5,-7],[133,-7.5],[135,-8],[136.6,-8.5],[138.5,-9],[140,-9.5],[141.5,-10.5],[142.6,-11],[144,-12],[145,-12.5],[146.5,-13.5],[147.7,-14.8],[148.5,-15],[155.5,-15],[155.8,-8],[157.2,-6],[158.5,-5],[159.5,-4],[160.6,-3],[161.5,-3.5],[162.5,-5],[163.5,-7.5],[164,-10],[164.5,-12],[165.5,-13.5],[166.5,-14.5],[167.5,-14],[168.5,-15],[214,-15]];
const ER_M5_strong = [[0,-15],[26,-15],[26.2,-4],[27,-3.5],[27.3,-15],[28,-8],[29,-10],[30,-10.5],[30.3,-15],[40.3,-15],[40.5,-7],[42,-7.5],[42.2,-15],[46.3,-15],[46.5,-2.5],[48,-2],[50,-2.5],[52,-2.5],[54,-3],[55,-4.5],[55.8,-5.5],[56.6,-15],[61.8,-15],[62,-8],[63.5,-8.5],[65,-7],[66,-4.5],[67.8,-3],[69,-3.5],[70.3,-4],[72,-4.5],[73,-8],[73.5,-15],[89.5,-15],[89.8,-9],[90.5,-8],[91.5,-10],[92.5,-11],[93.5,-9],[94.3,-5],[95.3,-2],[97,-2.8],[98.7,-3.5],[100.4,-4],[102,-5],[104,-6],[106.5,-7],[108,-5.5],[109,-4.5],[110.5,-3.5],[111.6,-2.5],[113.3,-3.8],[115,-2.5],[117.6,-3.5],[119.4,-4.5],[121,-5.5],[122.8,-7.5],[124.5,-7],[126,-6.8],[128,-4.5],[129.7,-6.5],[131.5,-7.5],[133,-8],[135,-8.5],[136.6,-9],[138.5,-9.5],[140,-10],[141.5,-11],[142.6,-11.5],[144,-12.5],[145,-13],[146.5,-14],[147.7,-15],[155.8,-15],[156.2,-9],[157.2,-7],[158.5,-6],[159.5,-5.5],[160.6,-4],[161.5,-4.2],[162.5,-5.5],[163.5,-9],[164,-11],[164.5,-13],[165,-14.5],[165.8,-15],[214,-15]];

// ---------- colours ----------
const M1_COLORS = ['#b9b9e1','#a0a0d5','#8888c9','#6d6dbc','#5151ae','#33339f','#11118c'];
const M2_COLORS = ['#e2b0b0','#d79a9a','#cc8484','#c06b6b','#b24f4f','#a13030','#8b0b0b'];
const M3_COLORS = ['#b0d8b0','#98cb98','#80be80','#66b066','#4aa04a','#2e8e2e','#0c780c'];
const M4_COLORS = ['#c4c4c4','#a8a8a8','#8c8c8c','#707070','#545454','#363636','#141414'];
const M5_COLORS = ['#a82828','#b03a3a','#b94d4d','#c16262','#c97777','#d18c8c','#d9a2a2','#e1b8b8','#e9cdcd','#f1e0e0'];

// ---------- figure geometry (design grid 1417 x 1297, expressed as paper fractions) ----------
const W = 1417, H = 1297;
const fx = px => px / W, fy = py => 1 - py / H;
const ROW_ZERO = [109, 357, 606, 854, 1102];
const COL_X = [[75, 625], [706, 1163]];
const FONT = 'Liberation Sans, Arial, sans-serif';
const VW = window.innerWidth || W, VH = window.innerHeight || H;

const panels = [
  {row:0, col:0, series:[FE_M1_low, FE_M1_mid, FE_M1_high], map:[0,0,1,1,2,2,2], colors:M1_COLORS, labels:densityThresholds, legend:'legend'},
  {row:0, col:1, series:[ER_M1_low, ER_M1_mid, ER_M1_high], map:[0,0,1,1,2,2,2], colors:M1_COLORS},
  {row:1, col:0, series:[FE_M2_low, FE_M2_mid, FE_M2_high], map:[0,0,1,1,2,2,2], colors:M2_COLORS, labels:densityThresholds, legend:'legend2'},
  {row:1, col:1, series:[ER_M2_low, ER_M2_mid, ER_M2_high], map:[0,0,1,1,2,2,2], colors:M2_COLORS},
  {row:2, col:0, series:[FE_M3_low, FE_M3_mid, FE_M3_high], map:[0,0,1,1,2,2,2], colors:M3_COLORS, labels:densityThresholds, legend:'legend3'},
  {row:2, col:1, series:[ER_M3_low, ER_M3_mid, ER_M3_high], map:[0,0,1,1,2,2,2], colors:M3_COLORS},
  {row:3, col:0, series:[FE_M4_low, FE_M4_high], map:[0,0,0,1,1,1,1], colors:M4_COLORS, labels:densityThresholds, legend:'legend4'},
  {row:3, col:1, series:[ER_M4_low, ER_M4_high], map:[0,0,0,1,1,1,1], colors:M4_COLORS},
  {row:4, col:0, series:[FE_M5_weak, FE_M5_mid, FE_M5_strong], map:[2,2,2,1,1,1,1,0,0,0], colors:M5_COLORS, labels:turbulenceThresholds, legend:'legend5'},
  {row:4, col:1, series:[ER_M5_weak, ER_M5_mid, ER_M5_strong], map:[2,2,2,1,1,1,1,0,0,0], colors:M5_COLORS},
];

const traces = [];
const layout = {
  width: VW, height: VH, margin: {l:0, r:0, t:0, b:0},
  paper_bgcolor: '#ffffff', plot_bgcolor: 'rgba(0,0,0,0)',
  font: {family: FONT, color: '#000'},
  showlegend: true, annotations: []
};

panels.forEach(p => {
  const n = p.row * 2 + p.col + 1;
  const xa = 'x' + (n === 1 ? '' : n), ya = 'y' + (n === 1 ? '' : n);
  const z = ROW_ZERO[p.row];
  const left = p.col === 0;
  const axisStyle = {
    showline: true, linecolor: '#000', linewidth: 1.3, ticks: 'outside', ticklen: 5, tickwidth: 1.2, tickcolor: '#333',
    tickfont: {size: 16, color: '#4d4d4d', family: FONT}, showgrid: false, zeroline: false, fixedrange: true
  };
  layout['xaxis' + (n === 1 ? '' : n)] = Object.assign({
    domain: [fx(COL_X[p.col][0]), fx(COL_X[p.col][1])], anchor: ya,
    range: left ? [-10.7, 224.7] : [-11, 224.7],
    tickmode: 'array', tickvals: monthTickVals, ticktext: monthTickText
  }, axisStyle);
  layout['yaxis' + (n === 1 ? '' : n)] = Object.assign({
    domain: [fy(z + 159.9), fy(z - 7.6)], anchor: xa,
    range: left ? [-44.1, 2.1] : [-15.75, 0.75],
    tickmode: 'array', tickvals: left ? feeaghTickVals : erkenTickVals, ticktext: left ? feeaghTickText : erkenTickText
  }, axisStyle);
  // threshold lines: first level drawn first, last level drawn on top
  p.map.forEach((si, i) => {
    const s = p.series[si];
    traces.push({
      type: 'scatter', mode: 'lines', xaxis: xa, yaxis: ya,
      x: s.map(d => d[0]), y: s.map(d => d[1]),
      line: {color: p.colors[i], width: 1.2}, connectgaps: false,
      showlegend: false, hoverinfo: 'skip'
    });
  });
  // legend keys
  if (p.labels) {
    p.labels.forEach((lab, i) => {
      let lg = p.legend;
      if (p.legend === 'legend5' && i >= 8) lg = 'legend6';
      traces.push({
        type: 'scatter', mode: 'lines', xaxis: xa, yaxis: ya,
        x: [null], y: [null], name: lab, legend: lg, legendgroup: 'g' + n + '_' + i,
        line: {color: p.colors[i], width: 4}, showlegend: true, hoverinfo: 'skip'
      });
    });
  }
  // y axis title
  layout.annotations.push({
    xref: 'paper', yref: 'paper', x: fx(left ? 20 : 655), y: fy(z + 76), text: 'Epilimnion depth (m)',
    textangle: -90, showarrow: false, xanchor: 'center', yanchor: 'middle',
    font: {size: 20, color: '#000', family: FONT}
  });
});

// legends (entries)
const legendFont = {size: 16, color: '#1a1a1a', family: FONT};
const legendBase = {xanchor: 'left', yanchor: 'top', orientation: 'v', traceorder: 'grouped', tracegroupgap: 4.5,
  bgcolor: 'rgba(0,0,0,0)', borderwidth: 0, font: legendFont, itemwidth: 30, itemclick: false, itemdoubleclick: false};
const LEG_OFF = 17;
layout.legend  = Object.assign({}, legendBase, {x: fx(1255), y: fy(101 - LEG_OFF)});
layout.legend2 = Object.assign({}, legendBase, {x: fx(1255), y: fy(350 - LEG_OFF)});
layout.legend3 = Object.assign({}, legendBase, {x: fx(1255), y: fy(598 - LEG_OFF)});
layout.legend4 = Object.assign({}, legendBase, {x: fx(1255), y: fy(846 - LEG_OFF)});
layout.legend5 = Object.assign({}, legendBase, {x: fx(1193), y: fy(1095 - LEG_OFF)});
layout.legend6 = Object.assign({}, legendBase, {x: fx(1303), y: fy(1095 - LEG_OFF)});

// text annotations
const ann = (x, y, text, size, opts) => Object.assign({xref:'paper', yref:'paper', x: fx(x), y: fy(y), text, showarrow:false,
  xanchor:'left', yanchor:'middle', font:{size, color:'#000', family: FONT}}, opts || {});
const boldFont = s => ({size: s, color: '#000', family: FONT, weight: 'bold'});
layout.annotations.push(
  ann(172, 24, 'Lough Feeagh', 29, {xanchor:'center', font: boldFont(29)}),
  ann(776, 24, 'Lake Erken', 29, {xanchor:'center', font: boldFont(29)}),
  ann(36, 73, '(a)', 25, {font: boldFont(25)}),
  ann(73, 76, 'M1: Difference from surface', 24),
  ann(36, 323, '(b)', 25, {font: boldFont(25)}),
  ann(72, 325, 'M2: Gradient from surface', 24),
  ann(36, 567, '(c)', 25, {font: boldFont(25)}),
  ann(73, 572, 'M3: Gradient from pycnocline', 24),
  ann(36, 819, '(d)', 25, {font: boldFont(25)}),
  ann(72, 821, 'M4: rLakeAnalyzer', 24),
  ann(36, 1066, '(e)', 25, {font: boldFont(25)}),
  ann(73, 1069, 'M5: Modelled turbulence', 24),
  // legend titles (two lines each)
  ann(1297, 57, 'Threshold', 20, {xanchor:'center'}),
  ann(1297, 81, '(kg m-3)', 20, {xanchor:'center'}),
  ann(1299, 308, 'Threshold', 20, {xanchor:'center'}),
  ann(1299, 332, '(kg m<sup>-3</sup> m<sup>-1</sup>)', 20, {xanchor:'center'}),
  ann(1299, 552, 'Threshold', 20, {xanchor:'center'}),
  ann(1299, 576, '(kg m<sup>-3</sup> m<sup>-1</sup>)', 20, {xanchor:'center'}),
  ann(1294, 798, 'Threshold', 20, {xanchor:'center'}),
  ann(1294, 822, '(kg m<sup>-3</sup> m<sup>-1</sup>)', 20, {xanchor:'center'}),
  ann(1300, 1044, 'Threshold', 20, {xanchor:'center'}),
  ann(1300, 1068, '(m<sup>2</sup> s<sup>-1</sup>)', 20, {xanchor:'center'})
);

Plotly.newPlot('chart', traces, layout, {staticPlot: true, displayModeBar: false}).then(gd => {
  // if anything makes the document taller than the viewport, stretch the figure to fill it
  const docH = Math.max(document.documentElement.scrollHeight, document.body.scrollHeight);
  if (docH > VH + 2 && docH < VH * 1.1) {
    gd.style.height = docH + 'px';
    return Plotly.relayout(gd, {height: docH});
  }
});
</script>
</body></html>
